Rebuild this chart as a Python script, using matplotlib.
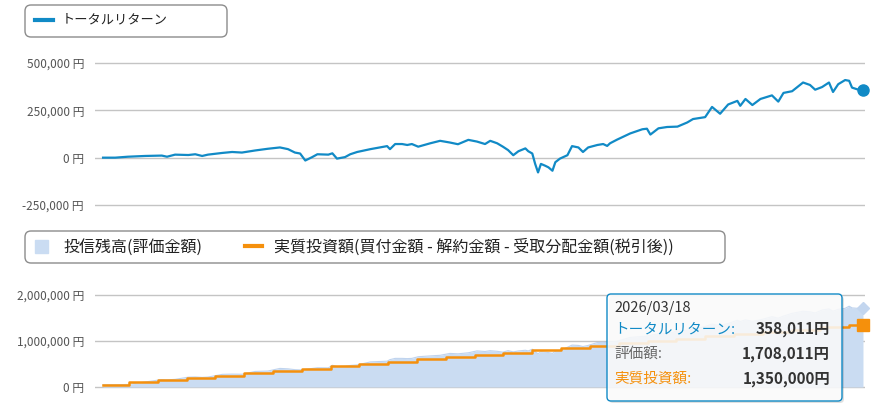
import numpy as np
import matplotlib.pyplot as plt
from matplotlib.patches import FancyBboxPatch, Rectangle
from matplotlib.ticker import FuncFormatter

plt.rcParams['font.family'] = ['Noto Sans CJK JP', 'DejaVu Sans']

# total return, sampled at decimal-year dates (yen)
ret_dates = [2013.02, 2013.23, 2013.45, 2013.75, 2014.04, 2014.13, 2014.27, 2014.50,
             2014.62, 2014.74, 2014.84, 2015.09, 2015.26, 2015.43, 2015.66, 2015.88,
             2016.09, 2016.23, 2016.35, 2016.44, 2016.53, 2016.65, 2016.74, 2016.93,
             2017.00, 2017.08, 2017.22, 2017.31, 2017.43, 2017.66, 2017.95, 2018.00,
             2018.09, 2018.21, 2018.30, 2018.38, 2018.49, 2018.70, 2018.87, 2019.04,
             2019.18, 2019.36, 2019.51, 2019.65, 2019.74, 2019.86, 2019.96, 2020.05,
             2020.14, 2020.23, 2020.35, 2020.40, 2020.47, 2020.52, 2020.57, 2020.62,
             2020.69, 2020.75, 2020.82, 2020.87, 2020.95, 2021.08, 2021.16, 2021.27,
             2021.35, 2021.44, 2021.60, 2021.70, 2021.77, 2021.82, 2021.94, 2022.17,
             2022.38, 2022.46, 2022.52, 2022.66, 2022.81, 2022.99, 2023.16, 2023.26,
             2023.47, 2023.59, 2023.73, 2023.87, 2024.03, 2024.08, 2024.17, 2024.29,
             2024.43, 2024.63, 2024.74, 2024.83, 2024.98, 2025.17, 2025.29, 2025.38,
             2025.50, 2025.62, 2025.69, 2025.78, 2025.90, 2025.97, 2026.02, 2026.11,
             2026.21]
ret_values = [0, 0, 5000, 9000, 11000, 5000, 16000, 14000,
              18000, 9000, 16000, 25000, 30000, 27000, 38000, 47000,
              54000, 45000, 27000, 22000, -15000, 3000, 18000, 16000,
              23000, -5000, 3000, 18000, 30000, 45000, 61000, 45000,
              72000, 72000, 67000, 72000, 58000, 76000, 89000, 80000,
              71000, 94000, 85000, 72000, 89000, 76000, 58000, 40000,
              13000, 34000, 49000, 34000, 22000, -33000, -78000, -33000,
              -42000, -51000, -69000, -24000, -5000, 13000, 61000, 54000,
              30000, 54000, 67000, 72000, 62000, 76000, 95000, 128000,
              150000, 153000, 122000, 155000, 162000, 164000, 186000, 204000,
              214000, 268000, 232000, 281000, 300000, 274000, 310000, 278000,
              310000, 329000, 296000, 342000, 351000, 397000, 384000, 359000,
              373000, 397000, 347000, 388000, 410000, 406000, 370000, 361000,
              358011]

# cumulative net investment, changes at these dates (yen)
invest_dates = [2013.02, 2013.47, 2013.97, 2014.47, 2014.97, 2015.47, 2015.97, 2016.47,
                2016.97, 2017.47, 2017.97, 2018.47, 2018.97, 2019.47, 2019.97, 2020.47,
                2020.97, 2021.47, 2021.97, 2022.47, 2022.97, 2023.47, 2023.97, 2024.47,
                2024.97, 2025.47, 2025.97]
invest_totals = [50000, 100000, 150000, 200000, 250000, 300000, 350000, 400000,
                 450000, 500000, 550000, 600000, 650000, 700000, 750000, 800000,
                 850000, 900000, 950000, 1000000, 1050000, 1100000, 1150000, 1200000,
                 1250000, 1300000, 1350000]

tooltip_date = '2026/03/18'

BLUE = '#118ac6'
ORANGE = '#f5900c'
AREA = '#cadcf2'
GRID = '#c4c4c4'
TICK = '#555555'

ret = np.array(ret_values)
idx = np.searchsorted(invest_dates, ret_dates, side='right') - 1
valuation = np.array(invest_totals)[idx] + ret

fig = plt.figure(figsize=(8.94, 4.09), dpi=100)
W, H = 894, 409
xlim = (2012.88, 2026.245)

# axes padded 2px above and below the outer gridlines
ax1 = fig.add_axes([95 / W, (H - 207) / H, 770 / W, 146 / H])
ax2 = fig.add_axes([95 / W, (H - 389) / H, 770 / W, 96 / H])

yen = FuncFormatter(lambda v, p: f'{int(v):,} 円')

for ax in (ax1, ax2):
    ax.set_xlim(*xlim)
    for s in ax.spines.values():
        s.set_visible(False)
    ax.set_xticks([])
    ax.yaxis.set_major_formatter(yen)
    ax.tick_params(axis='y', length=0, pad=8, colors=TICK, labelsize=8.5)
    ax.grid(axis='y', color=GRID, lw=1)
    ax.set_axisbelow(True)

pad1 = 2 * 750000 / 142
ax1.set_ylim(-250000 - pad1, 500000 + pad1)
ax1.set_yticks([-250000, 0, 250000, 500000])
ax1.plot(ret_dates, ret_values, color=BLUE, lw=1.6)
ax1.plot(ret_dates[-1], ret_values[-1], 'o', color=BLUE, ms=8, clip_on=False)

pad2 = 2 * 2000000 / 92
ax2.set_ylim(-pad2, 2000000 + pad2)
ax2.set_yticks([0, 1000000, 2000000])
ax2.fill_between(ret_dates, 0, valuation, color=AREA, lw=0)
ax2.plot(ret_dates, valuation, color='#bfd3ee', lw=0.8)
ax2.step(invest_dates + [ret_dates[-1]], invest_totals + [invest_totals[-1]],
         where='post', color=ORANGE, lw=1.8)
ax2.plot(ret_dates[-1], valuation[-1], 'D', color='#c3d6ef', ms=6, clip_on=False)
ax2.plot(ret_dates[-1], invest_totals[-1], 's', color=ORANGE, ms=8, clip_on=False)

# overlay in pixel coordinates for legends and tooltip
ov = fig.add_axes([0, 0, 1, 1], zorder=10)
ov.set_xlim(0, W)
ov.set_ylim(H, 0)
ov.axis('off')

ov.add_patch(FancyBboxPatch((25, 5), 202, 32, boxstyle='round,pad=0,rounding_size=6',
                            fc='white', ec='#8c8c8c', lw=1))
ov.plot([35, 53], [20, 20], color=BLUE, lw=3)
ov.text(62, 20, 'トータルリターン', va='center', ha='left', fontsize=9.5, color='#222222')

ov.add_patch(FancyBboxPatch((25, 231), 700, 32, boxstyle='round,pad=0,rounding_size=6',
                            fc='white', ec='#8c8c8c', lw=1))
ov.add_patch(Rectangle((35, 240), 13, 13, color=AREA))
ov.text(63, 247, '投信残高(評価金額)', va='center', ha='left', fontsize=11.5, color='#222222')
ov.plot([245, 262], [246, 246], color=ORANGE, lw=3)
ov.text(274, 247, '実質投資額(買付金額 - 解約金額 - 受取分配金額(税引後))',
        va='center', ha='left', fontsize=11.5, color='#222222')

# tooltip
ov.add_patch(FancyBboxPatch((609, 296), 235, 107, boxstyle='round,pad=0,rounding_size=4',
                            fc='#000000', alpha=0.12, lw=0))
ov.add_patch(FancyBboxPatch((607, 294), 235, 107, boxstyle='round,pad=0,rounding_size=4',
                            fc=(1, 1, 1, 0.85), ec=BLUE, lw=1))
ov.text(614, 308, tooltip_date, va='center', ha='left', fontsize=10.5, color='#333333')
rows = [('トータルリターン:', ret_values[-1], BLUE, 329),
        ('評価額:', int(valuation[-1]), '#666666', 354),
        ('実質投資額:', invest_totals[-1], ORANGE, 379)]
for label, value, col, y in rows:
    ov.text(614, y, label, va='center', ha='left', fontsize=10.5, color=col)
    ov.text(830, y, f'{value:,}円', va='center', ha='right', fontsize=11,
            color='#333333', fontweight='bold')

fig.savefig('out.png', dpi=100)
